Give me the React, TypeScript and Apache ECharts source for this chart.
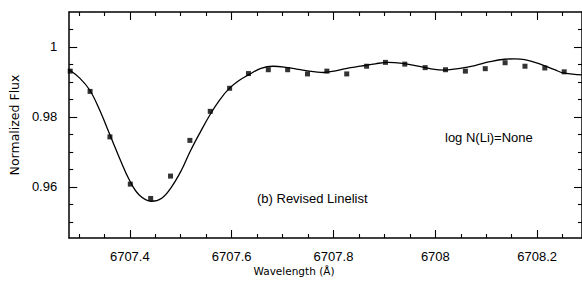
import React, { useEffect, useRef } from "react";
import * as echarts from "echarts";

// Observed spectrum (squares)
const obsWave = [
  6707.283, 6707.322, 6707.361, 6707.401, 6707.441, 6707.48, 6707.518, 6707.558,
  6707.596, 6707.633, 6707.672, 6707.71, 6707.749, 6707.787, 6707.826, 6707.865,
  6707.902, 6707.94, 6707.98, 6708.02, 6708.059, 6708.098, 6708.137, 6708.176,
  6708.215, 6708.253,
];
const obsFlux = [
  0.9931, 0.9873, 0.9743, 0.9608, 0.9567, 0.9631, 0.9733, 0.9816,
  0.9882, 0.9924, 0.9935, 0.9935, 0.9923, 0.9931, 0.9923, 0.9945,
  0.9956, 0.9951, 0.9941, 0.9935, 0.9931, 0.9938, 0.9955, 0.9945,
  0.994, 0.9929,
];

// Synthetic spectrum (line)
const modelWave = [
  6707.281, 6707.3017, 6707.3212, 6707.3408, 6707.3603, 6707.3799, 6707.3994, 6707.419,
  6707.4424, 6707.462, 6707.4815, 6707.5011, 6707.5187, 6707.5382, 6707.5578, 6707.5773,
  6707.5949, 6707.6145, 6707.634, 6707.6575, 6707.6809, 6707.7063, 6707.7356, 6707.7649,
  6707.7806, 6707.804, 6707.8333, 6707.8529, 6707.8822, 6707.9076, 6707.9311, 6707.9604,
  6707.9898, 6708.0191, 6708.0484, 6708.0777, 6708.107, 6708.1364, 6708.1559, 6708.1755,
  6708.2048, 6708.2341, 6708.2537, 6708.288,
];
const modelFlux = [
  0.9935, 0.9911, 0.9877, 0.982, 0.9751, 0.9682, 0.9619, 0.9576,
  0.9559, 0.9567, 0.9599, 0.9647, 0.9702, 0.9756, 0.9807, 0.985,
  0.9881, 0.9904, 0.9921, 0.9939, 0.9945, 0.9942, 0.9935, 0.9929,
  0.9927, 0.9932, 0.9941, 0.9945, 0.9952, 0.9956, 0.9954, 0.9947,
  0.9938, 0.9934, 0.9939, 0.9947, 0.9958, 0.9965, 0.9966, 0.9964,
  0.9952, 0.9935, 0.9925, 0.992,
];

const xMajor = [6707.4, 6707.6, 6707.8, 6708.0, 6708.2];
const xMinor = [
  6707.3, 6707.35, 6707.45, 6707.5, 6707.55, 6707.65, 6707.7, 6707.75,
  6707.85, 6707.9, 6707.95, 6708.05, 6708.1, 6708.15, 6708.25,
];
const yMajor = [0.96, 0.98, 1.0];
const yMinor = [0.95, 0.955, 0.965, 0.97, 0.975, 0.985, 0.99, 0.995, 1.005];

const X_MIN = 6707.281;
const X_MAX = 6708.288;
const Y_MIN = 0.9454;
const Y_MAX = 1.01;

const FONT = "Liberation Sans";
const INK = "#000";

function xAxis(position: string, ticks: number[], len: number, labels: boolean, line: boolean) {
  return {
    type: "value",
    position,
    min: X_MIN,
    max: X_MAX,
    splitLine: { show: false },
    axisLine: { show: line, onZero: false, lineStyle: { color: INK, width: 1.5 } },
    axisTick: { show: true, inside: true, length: len, customValues: ticks, lineStyle: { color: INK, width: 1.1 } },
    axisLabel: labels
      ? {
          show: true,
          customValues: ticks,
          margin: 12,
          color: INK,
          fontFamily: FONT,
          fontSize: 13,
          formatter: (v: number) => String(+v.toFixed(1)),
        }
      : { show: false },
  };
}

function yAxis(position: string, ticks: number[], len: number, labels: boolean, line: boolean) {
  return {
    type: "value",
    position,
    min: Y_MIN,
    max: Y_MAX,
    splitLine: { show: false },
    axisLine: { show: line, onZero: false, lineStyle: { color: INK, width: 1.5 } },
    axisTick: { show: true, inside: true, length: len, customValues: ticks, lineStyle: { color: INK, width: 1.1 } },
    axisLabel: labels
      ? {
          show: true,
          customValues: ticks,
          margin: 12,
          color: INK,
          fontFamily: FONT,
          fontSize: 13,
          formatter: (v: number) => String(+v.toFixed(2)),
        }
      : { show: false },
  };
}

export default function App() {
  const ref = useRef<HTMLDivElement>(null);
  useEffect(() => {
    if (!ref.current) return;
    const chart = echarts.init(ref.current, null, { renderer: "svg" });
    const yAxes: any[] = [
      yAxis("left", yMajor, 8, true, true),
      yAxis("left", yMinor, 4, false, false),
      yAxis("right", yMajor, 8, false, true),
      yAxis("right", yMinor, 4, false, false),
    ];
    yAxes[0].name = "Normalized Flux";
    yAxes[0].nameLocation = "middle";
    yAxes[0].nameRotate = 90;
    yAxes[0].nameGap = 46;
    yAxes[0].nameTextStyle = { fontFamily: "DejaVu Sans", fontSize: 12.5, color: INK };
    chart.setOption({
      animation: false,
      backgroundColor: "#fff",
      grid: { left: 67, right: 0, top: 12, bottom: 44, containLabel: false },
      xAxis: [
        xAxis("bottom", xMajor, 8, true, true),
        xAxis("bottom", xMinor, 4, false, false),
        xAxis("top", xMajor, 8, false, true),
        xAxis("top", xMinor, 4, false, false),
      ],
      yAxis: yAxes,
      graphic: [
        {
          type: "text",
          x: 294,
          y: 271,
          style: {
            text: "Wavelength (Å)",
            fontFamily: "DejaVu Sans",
            fontSize: 10.5,
            fill: INK,
            align: "center",
            verticalAlign: "middle",
          },
        },
        {
          type: "text",
          x: 257,
          y: 198,
          style: {
            text: "(b) Revised Linelist",
            fontFamily: FONT,
            fontSize: 13,
            fill: INK,
            align: "left",
            verticalAlign: "middle",
          },
        },
        {
          type: "text",
          x: 445,
          y: 137,
          style: {
            text: "log N(Li)=None",
            fontFamily: FONT,
            fontSize: 13,
            fill: INK,
            align: "left",
            verticalAlign: "middle",
          },
        },
      ],
      series: [
        {
          type: "line",
          name: "Synthetic",
          xAxisIndex: 0,
          yAxisIndex: 0,
          data: modelWave.map((w, i) => [w, modelFlux[i]]),
          showSymbol: false,
          symbol: "none",
          smooth: 0.4,
          lineStyle: { color: INK, width: 1.3 },
          z: 2,
        },
        {
          type: "scatter",
          name: "Observed",
          xAxisIndex: 0,
          yAxisIndex: 0,
          data: obsWave.map((w, i) => [w, obsFlux[i]]),
          symbol: "rect",
          symbolSize: 5,
          itemStyle: { color: INK },
          z: 3,
        },
      ],
    });
    return () => chart.dispose();
  }, []);
  return (
    <div
      ref={ref}
      style={{ position: "fixed", left: 0, top: 0, width: 582, height: 282 }}
    />
  );
}
